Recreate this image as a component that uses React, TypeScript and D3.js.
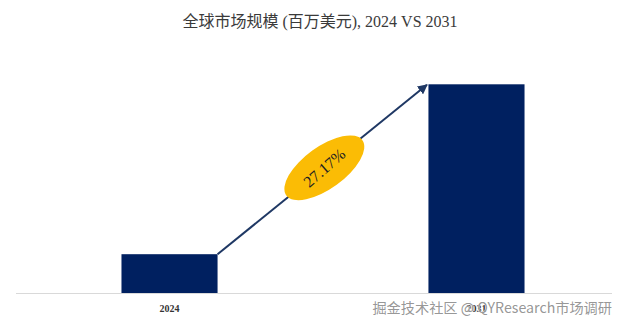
import React from "react";
import * as d3 from "d3";

const categories = ["2024", "2031"];
const values = [38.8, 208.7];
const cagrLabel = "27.17%";
const titleText = "全球市场规模 (百万美元), 2024 VS 2031";
const watermark = "掘金技术社区 @ QYResearch市场调研";

export default function App() {
  const W = 641, H = 326;
  const baseY = 293;
  const x = d3.scaleBand<string>().domain(categories).range([16, 630]).paddingInner(0.687).paddingOuter(0.3436);
  const y = d3.scaleLinear().domain([0, d3.max(values) as number]).range([baseY, 84.3]);
  const bw = x.bandwidth();

  const x0 = (x(categories[0]) as number) + bw;
  const y0 = y(values[0]);
  const x1 = (x(categories[1]) as number) - 1.5;
  const y1 = y(values[1]) + 0.5;
  const ang = (Math.atan2(y1 - y0, x1 - x0) * 180) / Math.PI;
  const t = 0.51;
  const cx = x0 + (x1 - x0) * t;
  const cy = y0 + (y1 - y0) * t;

  return (
    <svg width={W} height={H} style={{ position: "absolute", left: 0, top: 0, background: "#fff" }}>
      <defs>
        <marker id="ah" viewBox="0 0 10 10" refX="9" refY="5" markerWidth="5" markerHeight="5" orient="auto" markerUnits="strokeWidth">
          <path d="M0,0 L10,5 L0,10 z" fill="#1F3864" />
        </marker>
      </defs>
      <text x={320} y={27} textAnchor="middle" fontFamily="'Liberation Serif', 'Noto Sans CJK SC', serif" fontSize={16} fill="#3a3a3a">
        {titleText}
      </text>
      {categories.map((c, i) => (
        <rect key={c} x={x(c)} y={y(values[i])} width={bw} height={baseY - y(values[i])} fill="#002060" />
      ))}
      <line x1={16} x2={612} y1={baseY + 0.5} y2={baseY + 0.5} stroke="#d9d9d9" strokeWidth={1} />
      {categories.map((c) => (
        <text key={c} x={(x(c) as number) + bw / 2} y={312} textAnchor="middle" fontFamily="'Liberation Serif', serif" fontSize={10} fontWeight="bold" fill="#333">
          {c}
        </text>
      ))}
      <line x1={x0} y1={y0} x2={x1} y2={y1} stroke="#1F3864" strokeWidth={2} markerEnd="url(#ah)" />
      <g transform={`translate(${cx},${cy}) rotate(${ang + 3})`}>
        <ellipse rx={47} ry={21} fill="#FBBC05" />
      </g>
      <g transform={`translate(${cx},${cy}) rotate(${ang - 2})`}>
        <text x={0} y={5.5} textAnchor="middle" fontFamily="'Liberation Serif', serif" fontSize={16} fill="#222">
          {cagrLabel}
        </text>
      </g>
      <text x={612} y={313} textAnchor="end" fontFamily="'Noto Sans CJK SC', sans-serif" fontSize={14.2} fill="#8a8a8a" fillOpacity={0.9} stroke="#ffffff" strokeWidth={0.6} paintOrder="stroke">
        {watermark}
      </text>
    </svg>
  );
}
